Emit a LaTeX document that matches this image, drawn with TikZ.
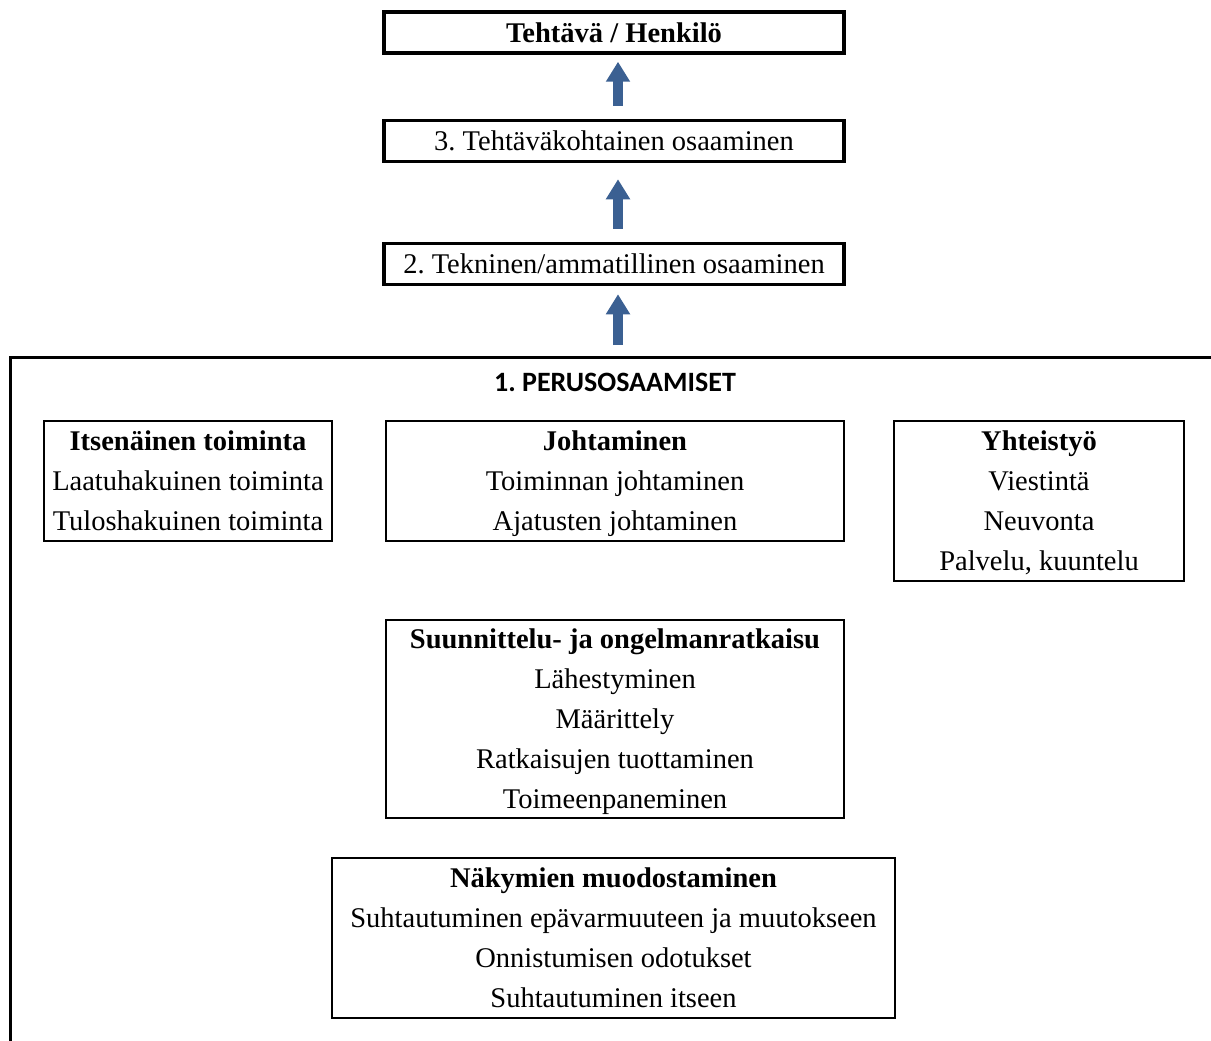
\documentclass[tikz,border=0pt]{standalone}
\usepackage{fontspec}
\setmainfont{Liberation Serif}
\newfontfamily\titlefont{Carlito}
\usetikzlibrary{arrows.meta}
\definecolor{arrowblue}{RGB}{59,96,146}
\tikzset{
  levelbox/.style={draw, line width=3.5pt, inner sep=0pt, text depth=0pt, minimum width=460pt, minimum height=41pt},
  groupbox/.style={draw, line width=1.8pt, inner sep=0pt, text depth=0pt, align=center},
  uparrow/.style={line width=10pt, arrowblue, -{Triangle[width=23pt,length=20pt]}},
}
\frenchspacing
\begin{document}
\begin{tikzpicture}[x=1pt,y=1pt,yscale=-1,xscale=1,
  font=\fontsize{28.5}{40}\selectfont]
\useasboundingbox (0,0) rectangle (1211,1041);

% Levels
\node [levelbox] (tehtava) at (614,32.5) {\textbf{Tehtävä / Henkilö}};
\node [levelbox] (taso3) at (614,141) {3. Tehtäväkohtainen osaaminen};
\node [levelbox] (taso2) at (614,264) {2. Tekninen/ammatillinen osaaminen};

% Frame of 1.
\coordinate (kulma) at (10,357);
\coordinate (runko) at (614,357);
\draw [line width=3pt] (1211,357) -- (kulma) -- (10,1041);
\node [font=\titlefont\bfseries\fontsize{28}{32}\selectfont] (otsikko) at (615,382) {1. PERUSOSAAMISET};

% Arrows
\draw [uparrow] ([xshift=4pt,yshift=-13pt]taso3.north) -- ([xshift=4pt,yshift=7pt]tehtava.south);
\draw [uparrow] ([xshift=4pt,yshift=-13pt]taso2.north) -- ([xshift=4pt,yshift=16pt]taso3.south);
\draw [uparrow] ([xshift=4pt,yshift=-12pt]runko) -- ([xshift=4pt,yshift=8pt]taso2.south);

% Groups
\node [groupbox, minimum width=288pt, minimum height=120pt] (itsenainen) at (188,481)
  {\textbf{Itsenäinen toiminta}\\Laatuhakuinen toiminta\\Tuloshakuinen toiminta};
\node [groupbox, minimum width=458pt, minimum height=120pt] (johtaminen) at (615,481)
  {\textbf{Johtaminen}\\Toiminnan johtaminen\\Ajatusten johtaminen};
\node [groupbox, minimum width=290pt, minimum height=160pt] (yhteistyo) at (1039,501)
  {\textbf{Yhteistyö}\\Viestintä\\Neuvonta\\Palvelu, kuuntelu};
\node [groupbox, minimum width=458pt, minimum height=198pt] (suunnittelu) at (615,719)
  {\textbf{Suunnittelu- ja ongelmanratkaisu}\\Lähestyminen\\Määrittely\\Ratkaisujen tuottaminen\\Toimeenpaneminen};
\node [groupbox, minimum width=563pt, minimum height=160pt] (nakymat) at (613.5,938)
  {\textbf{Näkymien muodostaminen}\\Suhtautuminen epävarmuuteen ja muutokseen\\Onnistumisen odotukset\\Suhtautuminen itseen};

\end{tikzpicture}
\end{document}
